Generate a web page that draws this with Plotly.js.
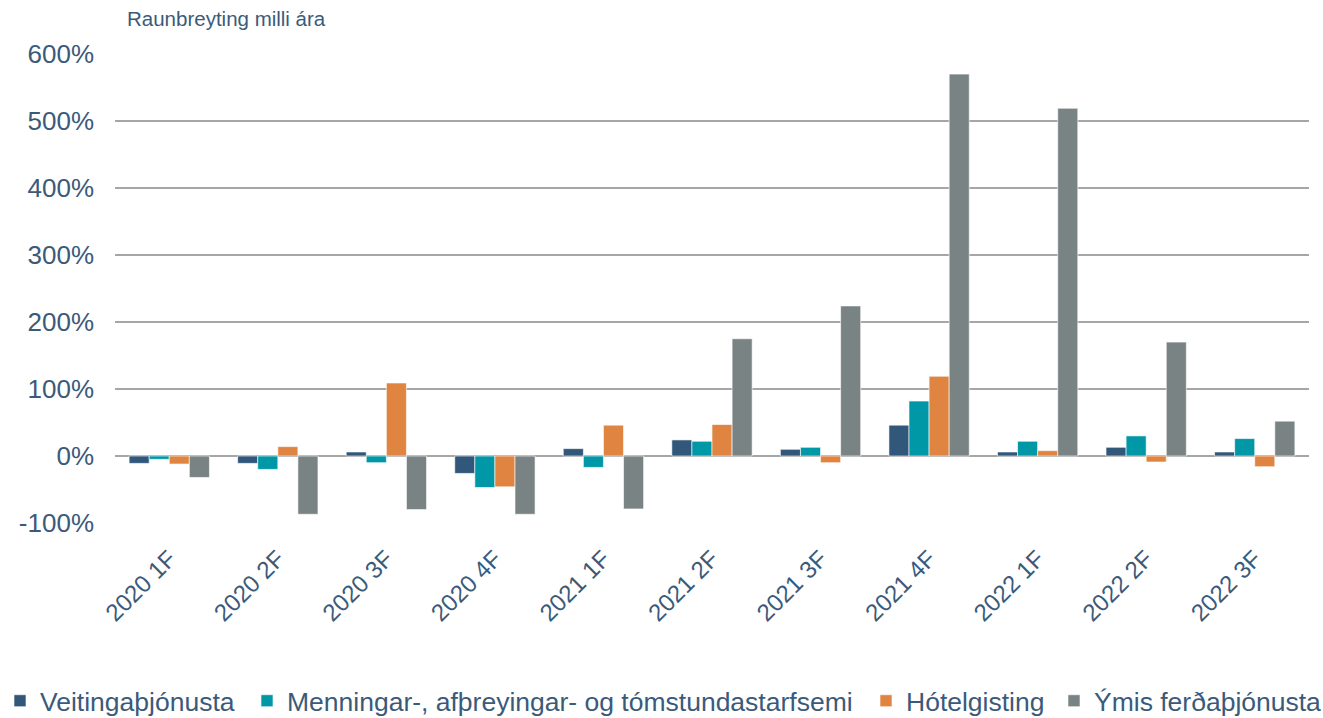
<!DOCTYPE html>
<html>
<head>
<meta charset="utf-8">
<script src="https://cdn.plot.ly/plotly-3.0.1.min.js"></script>
<style>html,body{margin:0;padding:0;background:#fff;}#chart{width:1323px;height:718px;}</style>
</head>
<body>
<div id="chart"></div>
<script>
const categories = ["2020 1F","2020 2F","2020 3F","2020 4F","2021 1F","2021 2F","2021 3F","2021 4F","2022 1F","2022 2F","2022 3F"];
const seriesNames = ["Veitingaþjónusta","Menningar-, afþreyingar- og tómstundastarfsemi","Hótelgisting","Ýmis ferðaþjónusta"];
const veitingar = [-11, -11, 6, -26, 11, 24, 10, 46, 6, 13, 6];
const menning = [-5, -20, -10, -47, -17, 22, 13, 82, 22, 30, 26];
const hotel = [-12, 14, 109, -46, 46, 47, -10, 119, 8, -9, -16];
const ymis = [-32, -87, -80, -87, -79, 175, 224, 570, 519, 170, 52];
const yTicks = [-100, 0, 100, 200, 300, 400, 500, 600];

const colors = ["#31577A", "#0097A7", "#E08541", "#7A8384"];
const values = [veitingar, menning, hotel, ymis];
const textColor = "#3B5A7A";
const W = 1323, H = 718;
const legendLeft = [0, 247, 866, 1054];
const legendIds = ["legend", "legend2", "legend3", "legend4"];

const traces = values.map((v, i) => ({
  type: "bar",
  name: seriesNames[i],
  x: categories,
  y: v,
  legend: legendIds[i],
  marker: {color: colors[i], line: {color: "rgba(255,255,255,0.6)", width: 1}},
  hoverinfo: "x+y"
}));

const layout = {
  width: W, height: H,
  margin: {l: 115, r: 14, t: 54, b: 195},
  paper_bgcolor: "#fff", plot_bgcolor: "#fff",
  font: {family: "Liberation Sans, Arial, sans-serif", color: textColor},
  barmode: "group",
  bargap: 0.26,
  bargroupgap: 0,
  showlegend: true,
  xaxis: {
    type: "category",
    tickangle: -45,
    tickfont: {size: 24, color: textColor},
    showgrid: false, showline: false, ticks: "", zeroline: false,
    automargin: false, ticklabelstandoff: 16
  },
  yaxis: {
    range: [-100, 600],
    tickvals: yTicks,
    ticktext: yTicks.map(t => t + "%"),
    tickfont: {size: 26, color: textColor},
    showgrid: true, gridcolor: "#A6A6A6", gridwidth: 1.5,
    zeroline: true, zerolinecolor: "#A6A6A6", zerolinewidth: 1.5,
    ticks: "", ticklen: 0, showline: false,
    automargin: false, ticklabelstandoff: 20
  },
  annotations: [{
    text: "Raunbreyting milli ára", xref: "paper", yref: "paper",
    x: (125 - 115) / 1194, y: (523 - 18) / 469, xanchor: "left", yanchor: "middle",
    showarrow: false, font: {size: 20.5, color: textColor}
  }]
};
legendIds.forEach((id, i) => {
  layout[id] = {
    orientation: "h", xref: "container", yref: "container",
    x: legendLeft[i] / W, xanchor: "left",
    y: 1 - 701 / H, yanchor: "middle",
    font: {size: 26.5, color: textColor}, bgcolor: "rgba(0,0,0,0)", borderwidth: 0
  };
});

Plotly.newPlot("chart", traces, layout, {displayModeBar: false});
</script>
</body>
</html>
